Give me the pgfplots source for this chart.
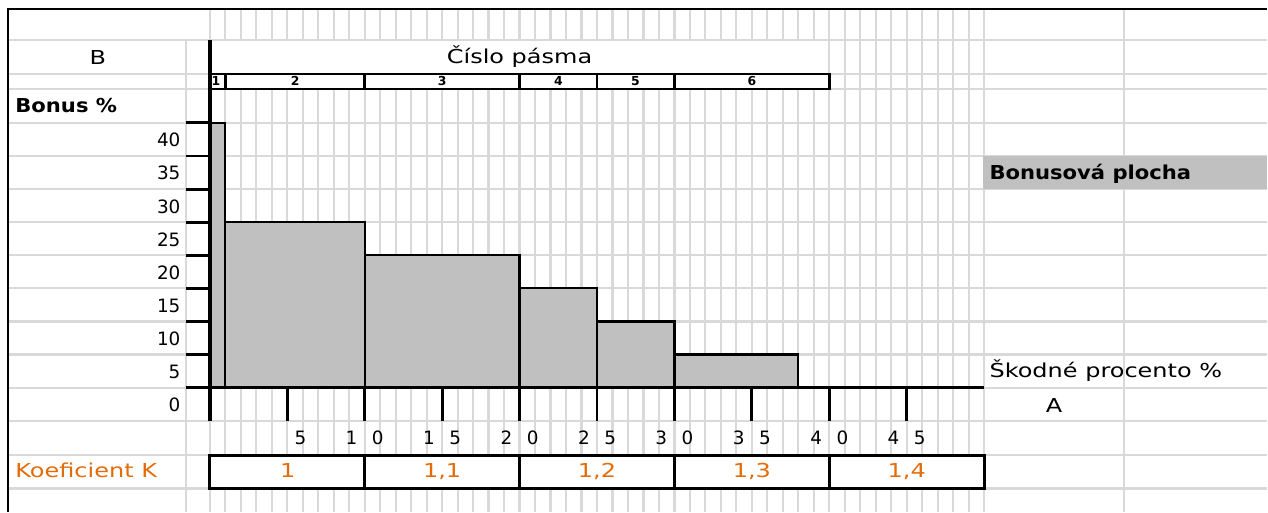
\documentclass[border=0pt]{standalone}
\usepackage{fontspec}
\setmainfont{DejaVu Sans}
\newfontfamily\lsr[FakeStretch=1.25]{DejaVu Sans}
\newfontfamily\lsb[FakeStretch=1.1]{DejaVu Sans Bold}
\newfontfamily\bandfont{DejaVu Sans Bold}
\usepackage{pgfplots}
\pgfplotsset{compat=1.18}
\definecolor{gridg}{HTML}{D9D9D9}
\definecolor{barg}{HTML}{C0C0C0}
\definecolor{kor}{HTML}{E36C09}
\newcommand{\tl}[2]{\makebox[19pt]{#1\hfill#2}}
\newcommand{\R}{\lsr\fontsize{9.6}{11}\selectfont}
\newcommand{\Bf}{\lsb\fontsize{9.6}{11}\selectfont}
\newcommand{\N}{\fontsize{9.2}{11}\selectfont}
\newcommand{\Bd}{\bandfont\fontsize{6.2}{7}\selectfont}
\begin{document}
\begin{tikzpicture}
% ---------- spreadsheet grid (pixel coordinates) ----------
\begin{scope}[x=0.5pt,y=-0.5pt]
  \foreach \k in {0,...,50} {\draw[gridg, line width=1.1pt] ({210+15.5*\k},9) -- ({210+15.5*\k},512);}
  \draw[gridg, line width=1.1pt] (1125,9) -- (1125,512);
  \draw[gridg, line width=1.1pt] (186,40) -- (186,512);
  \foreach \y in {40,74,89,123,156.1,189.3,222.4,255.5,288.6,321.8,354.9,388,421.5,455.5,489}
    {\draw[gridg, line width=1.1pt] (8,\y) -- (1268,\y);}
  \fill[white] (211,41) rectangle (829,73.4);
  \fill[white] (211,75) rectangle (829,88);
  \fill[white] (211,457) rectangle (984,488);
  \fill[barg] (984,156.1) rectangle (1268,189.3);
\end{scope}
% ---------- the chart ----------
\begin{axis}[
  at={(0pt,0pt)}, anchor=north west,
  scale only axis, width=634pt, height=256pt,
  xmin=-13.5484, xmax=68.2581, ymin=-18.7170, ymax=58.5660,
  axis line style={draw=none}, tick style={draw=none},
  clip=false,
  xtick={5,10,15,20,25,30,35,40,45},
  xticklabels={{\tl{}{5}},{\tl{1}{0}},{\tl{1}{5}},{\tl{2}{0}},{\tl{2}{5}},{\tl{3}{0}},{\tl{3}{5}},{\tl{4}{0}},{\tl{4}{5}}},
  ytick={0,5,10,15,20,25,30,35,40},
  yticklabels={0,5,10,15,20,25,30,35,40},
  xticklabel style={font=\N, anchor=base, inner sep=0pt, yshift=33.5pt},
  yticklabel style={font=\N, anchor=base east, inner sep=0pt, xshift=90.5pt, yshift=-12pt},
]
\addplot[ybar interval, fill=barg, draw=black, line width=1.1pt]
  coordinates {(0,40) (1,25) (10,20) (20,15) (25,10) (30,5) (38,5)};
\end{axis}
% ---------- black rules, boxes and texts ----------
\begin{scope}[x=0.5pt,y=-0.5pt]
  \draw[black, line width=0.8pt] (8,512) -- (8,9) -- (1268,9);
  \foreach \y in {123,156.1,189.3,222.4,255.5,288.6,321.8,354.9}
    {\draw[black, line width=1.4pt] (186,\y) -- (210,\y);}
  \foreach \x in {287.5,365,442.5,520,597.5,675,752.5,830,907.5}
    {\draw[black, line width=1.4pt] (\x,388) -- (\x,421.5);}
  \draw[black, line width=1.5pt] (186,388) -- (985,388);
  \draw[black, line width=2pt] (210,40) -- (210,421.5);
  % band boxes
  \draw[black, line width=1.4pt] (210,74) rectangle (830,89);
  \foreach \x in {226,365,520,597.5,675} {\draw[black, line width=1.4pt] (\x,74) -- (\x,89);}
  \foreach \x/\t in {216/1,295.5/2,442.5/3,559/4,636/5,752.5/6}
    {\node[anchor=base, inner sep=0pt, font=\Bd] at (\x,85.5) {\t};}
  % coefficient boxes
  \draw[black, line width=1.4pt] (210,456) rectangle (985,489);
  \foreach \x in {365,520,675,830} {\draw[black, line width=1.4pt] (\x,456) -- (\x,489);}
  \foreach \x/\t in {288/1,442.5/{1,1},597.5/{1,2},752.5/{1,3},907.5/{1,4}}
    {\node[anchor=base, inner sep=0pt, font=\R, text=kor] at (\x,478) {\t};}
  % texts
  \node[anchor=base, inner sep=0pt, font=\R] at (98,65) {B};
  \node[anchor=base, inner sep=0pt, font=\R] at (520,64) {Číslo pásma};
  \node[anchor=base west, inner sep=0pt, font=\Bf] at (15,113) {Bonus \%};
  \node[anchor=base west, inner sep=0pt, font=\Bf] at (990,180) {Bonusová plocha};
  \node[anchor=base west, inner sep=0pt, font=\R] at (990,378) {Škodné procento \%};
  \node[anchor=base, inner sep=0pt, font=\R] at (1055,413) {A};
  \node[anchor=base west, inner sep=0pt, font=\R, text=kor] at (15,478) {Koeficient K};
\end{scope}
\end{tikzpicture}
\end{document}
